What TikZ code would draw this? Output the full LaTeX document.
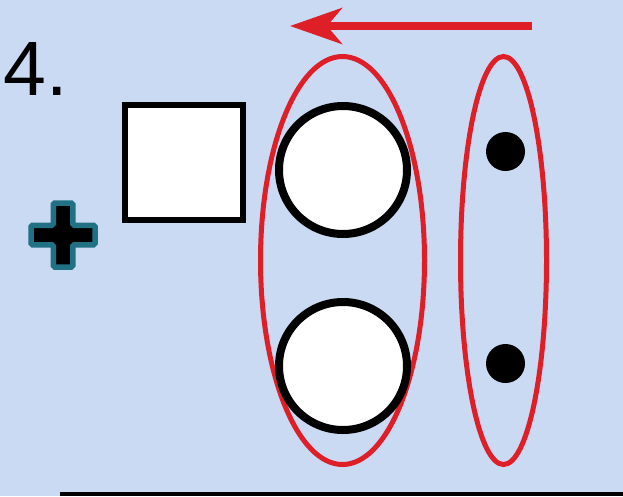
\documentclass[tikz,border=0pt]{standalone}
\usepackage{fontspec}
\setmainfont{Liberation Sans}
\usepackage{tikz}
\usetikzlibrary{positioning,shapes.geometric,arrows.meta}

\definecolor{bgblue}{RGB}{203,218,243}
\definecolor{markred}{RGB}{222,31,39}
\definecolor{plusteal}{RGB}{33,113,133}

\begin{document}
\begin{tikzpicture}[x=1pt, y=-1pt,
	box/.style={rectangle, draw=black, line width=6pt, fill=white, inner sep=0pt,
		minimum width=118pt, minimum height=115pt},
	ball/.style={circle, draw=black, line width=8pt, fill=white, inner sep=0pt,
		minimum size=128pt},
	bead/.style={circle, draw=none, fill=black, inner sep=0pt, minimum size=39pt},
	ring/.style={ellipse, draw=markred, line width=5pt, inner sep=0pt,
		minimum height=408pt},
	plusmark/.style={draw=plusteal, fill=black, line width=5.5pt, rounded corners=1.5pt},
	]
	% background
	\fill[bgblue] (0,0) rectangle (623,496);
	\useasboundingbox (0,0) rectangle (623,496);

	\node (num) [anchor=base west, inner sep=0pt, font=\fontsize{77}{80}\selectfont] at (3,95) {4.};

	% plus sign
	\coordinate (plusc) at (63,235);
	\draw[plusmark] (53.25,203) -- (72.75,203) -- (72.75,225.25) -- (95,225.25)
		-- (95,244.75) -- (72.75,244.75) -- (72.75,267) -- (53.25,267)
		-- (53.25,244.75) -- (31,244.75) -- (31,225.25) -- (53.25,225.25) -- cycle;

	\node (sq) [box] at (184,162.5) {};

	% left group
	\node (ringL) [ring, minimum width=164pt] at (342.5,260.5) {};
	\node (ballT) [ball] at (343,170) {};
	\node (ballB) [ball] at (343,366) {};

	% right group
	\node (ringR) [ring, minimum width=86pt] at (503.5,260.5) {};
	\node (beadT) [bead] at (505.5,151.5) {};
	\node (beadB) [bead] at (505.5,363.5) {};

	% arrow
	\coordinate (arrowR) at (532,26);
	\coordinate (arrowL) at (290,26);
	\draw[markred, line width=7.5pt, -{Stealth[length=52pt, width=36pt, inset=15pt]}] (arrowR) -- (arrowL);

	% base line
	\coordinate (lineL) at (60,494);
	\coordinate (lineR) at (623,494);
	\draw[black, line width=4pt] (lineL) -- (lineR);
\end{tikzpicture}
\end{document}
